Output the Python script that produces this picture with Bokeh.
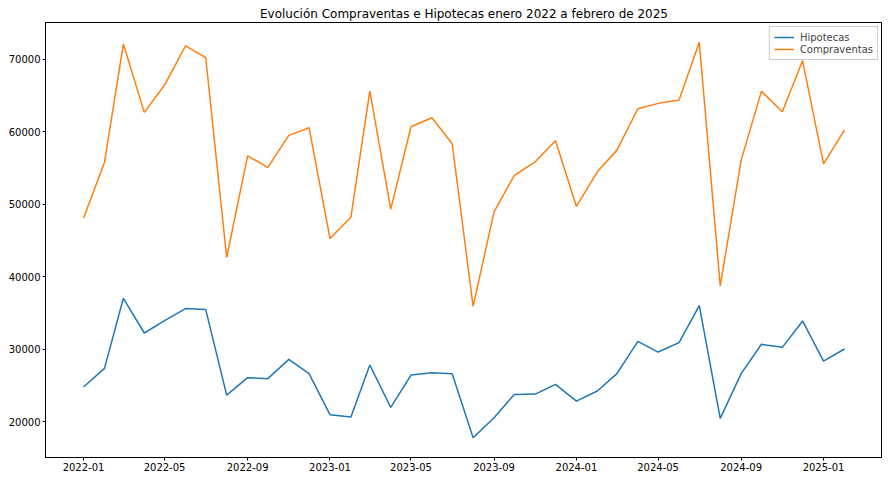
import pandas as pd
from bokeh.plotting import figure
from bokeh.models import FixedTicker, DatetimeTickFormatter, NumeralTickFormatter, Range1d, Legend, LegendItem
from bokeh.embed import file_html
from bokeh.resources import INLINE

months = ["2022-01", "2022-02", "2022-03", "2022-04", "2022-05", "2022-06",
          "2022-07", "2022-08", "2022-09", "2022-10", "2022-11", "2022-12",
          "2023-01", "2023-02", "2023-03", "2023-04", "2023-05", "2023-06",
          "2023-07", "2023-08", "2023-09", "2023-10", "2023-11", "2023-12",
          "2024-01", "2024-02", "2024-03", "2024-04", "2024-05", "2024-06",
          "2024-07", "2024-08", "2024-09", "2024-10", "2024-11", "2024-12",
          "2025-01", "2025-02"]

hipotecas = [24780, 27360, 37030, 32240, 33950, 35610, 35470, 23670, 26080, 25940, 28600, 26630,
             20970, 20640, 27820, 21980, 26440, 26770, 26630, 17790, 20550, 23770, 23810, 25150,
             22850, 24230, 26630, 31090, 29610, 30910, 36020, 20460, 26630, 30680, 30260, 33900,
             28370, 30030]

compraventas = [48120, 55770, 72100, 62680, 66450, 71840, 70220, 42650, 56690, 55080, 59500, 60560,
                45280, 48220, 65620, 49320, 60700, 61940, 58340, 35920, 48950, 53980, 55860, 58760,
                49700, 54480, 57470, 63180, 63920, 64380, 72350, 38730, 56090, 65580, 62760, 69810,
                55580, 60240]

x_ticks = ["2022-01", "2022-05", "2022-09", "2023-01", "2023-05", "2023-09",
           "2024-01", "2024-05", "2024-09", "2025-01"]
y_ticks = [20000, 30000, 40000, 50000, 60000, 70000]

title = "Evolución Compraventas e Hipotecas enero 2022 a febrero de 2025"

dates = pd.to_datetime(months, format="%Y-%m")
tick_ms = [pd.Timestamp(t + "-01").value / 1e6 for t in x_ticks]

span = dates[-1] - dates[0]
x0 = dates[0] - span * 0.05
x1 = dates[-1] + span * 0.05
ymin, ymax = min(hipotecas + compraventas), max(hipotecas + compraventas)
yr = ymax - ymin

FONT = "DejaVu Sans"

p = figure(width=882, height=474, x_axis_type="datetime", output_backend="svg",
           toolbar_location=None, title=title,
           x_range=Range1d(x0, x1), y_range=Range1d(ymin - 0.05 * yr, ymax + 0.05 * yr),
           min_border_left=45, min_border_right=0, min_border_top=22, min_border_bottom=17)

p.title.align = "center"
p.title.text_font = FONT
p.title.text_font_size = "12px"
p.title.text_font_style = "normal"
p.title.text_color = "#000000"
p.title.standoff = 4
p.title.offset = 0

p.xgrid.visible = False
p.ygrid.visible = False
p.outline_line_color = "#000000"
p.outline_line_width = 1
p.background_fill_color = "white"
p.border_fill_color = "white"

for ax in (p.xaxis[0], p.yaxis[0]):
    ax.axis_line_color = "#000000"
    ax.major_tick_line_color = "#000000"
    ax.major_tick_out = 3
    ax.major_tick_in = 0
    ax.minor_tick_line_color = None
    ax.major_label_text_font = FONT
    ax.major_label_text_font_size = "10px"
    ax.major_label_text_color = "#000000"
    ax.major_label_standoff = 2

p.xaxis[0].ticker = FixedTicker(ticks=tick_ms)
p.xaxis[0].formatter = DatetimeTickFormatter(months="%Y-%m", days="%Y-%m", years="%Y-%m")
p.yaxis[0].ticker = FixedTicker(ticks=y_ticks)
p.yaxis[0].formatter = NumeralTickFormatter(format="0")

r1 = p.line(dates, hipotecas, line_color="#1f77b4", line_width=1.5)
r2 = p.line(dates, compraventas, line_color="#ff7f0e", line_width=1.5)

legend = Legend(items=[LegendItem(label="Hipotecas", renderers=[r1]),
                       LegendItem(label="Compraventas", renderers=[r2])],
                location="top_right")
legend.label_text_font = FONT
legend.label_text_font_size = "10px"
legend.label_height = 12
legend.glyph_height = 12
legend.glyph_width = 20
legend.spacing = 0
legend.padding = 4
legend.margin = 4
legend.border_line_color = "#cccccc"
legend.border_line_alpha = 1
legend.background_fill_alpha = 0.8
legend.label_standoff = 6
p.add_layout(legend)

open("out.html", "w").write(file_html(p, INLINE))
